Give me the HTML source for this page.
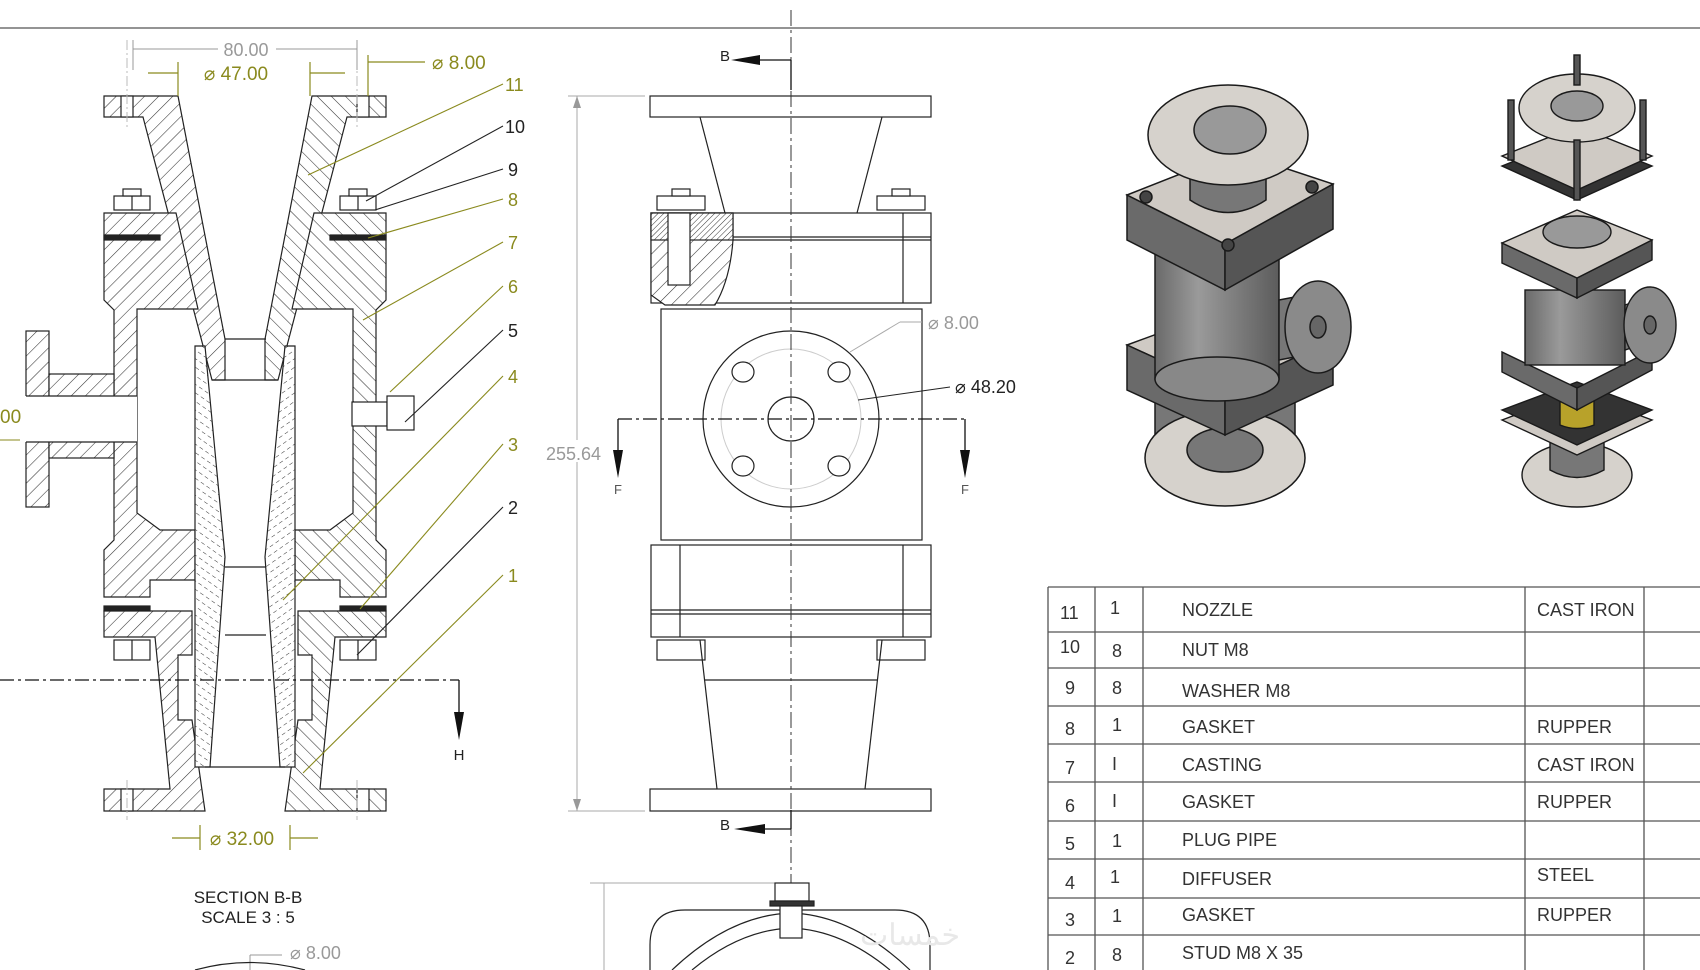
<!DOCTYPE html>
<html><head><meta charset="utf-8"><style>
html,body{margin:0;padding:0;background:#fff;}
svg{display:block;}
text{font-family:"Liberation Sans",sans-serif;}
</style></head><body>
<svg width="1700" height="970" viewBox="0 0 1700 970" xmlns="http://www.w3.org/2000/svg">
<defs>
<pattern id="h" patternUnits="userSpaceOnUse" width="10" height="10" patternTransform="rotate(45)">
<rect width="10" height="10" fill="#fff"/><line x1="0" y1="0" x2="0" y2="10" stroke="#333" stroke-width="1.1"/></pattern>
<pattern id="hd" patternUnits="userSpaceOnUse" width="7" height="7" patternTransform="rotate(-55)">
<rect width="7" height="7" fill="#fff"/><line x1="0" y1="0" x2="0" y2="4" stroke="#333" stroke-width="1"/></pattern>
<pattern id="hf" patternUnits="userSpaceOnUse" width="4" height="4" patternTransform="rotate(45)">
<rect width="4" height="4" fill="#fff"/><line x1="0" y1="0" x2="0" y2="4" stroke="#333" stroke-width="1"/></pattern>
<linearGradient id="cyl" x1="0" x2="1"><stop offset="0" stop-color="#6a6a6a"/><stop offset=".35" stop-color="#9a9a9a"/><stop offset="1" stop-color="#5c5c5c"/></linearGradient>
</defs>
<line x1="0" y1="28" x2="1700" y2="28" stroke="#555" stroke-width="1.2"/>

<!-- SECTION VIEW -->
<g stroke="#222" stroke-width="1.2">
<g id="half">
<polygon points="104,96 178,96 225,339 225,380 212,380 143,117 104,117" fill="url(#h)"/>
<rect x="121" y="96" width="12" height="21" fill="#fff"/>
<polygon points="104,213 176,213 198,309 137,309 137,513 160,530 195,530 195,580 150,580 150,597 104,597 104,550 114,540 114,310 104,300" fill="url(#h)"/>
<rect x="104" y="235" width="56" height="5" fill="#222"/>
<rect x="104" y="606" width="46" height="5" fill="#222"/>
<polygon points="104,611 192,611 192,655 178,655 178,720 192,720 205,811 104,811 104,789 170,789 155,637 104,637" fill="url(#h)"/>
<rect x="121" y="789" width="12" height="22" fill="#fff"/>
<polygon points="195,346 205,346 225,557 210,767 195,767" fill="url(#hd)"/>
<rect x="114" y="196" width="36" height="14" fill="#fff"/><rect x="123" y="189" width="18" height="7" fill="#fff"/>
<rect x="114" y="640" width="36" height="20" fill="#fff"/>
<line x1="132" y1="196" x2="132" y2="210"/><line x1="132" y1="640" x2="132" y2="660"/>
</g>
<use href="#half" transform="translate(490,0) scale(-1,1)"/>
<!-- side pipe -->
<rect x="26" y="331" width="23" height="176" fill="url(#h)"/>
<rect x="49" y="374" width="65" height="84" fill="url(#h)"/>
<rect x="20" y="396" width="117" height="46" fill="#fff" stroke="none"/>
<line x1="26" y1="396" x2="137" y2="396"/><line x1="26" y1="442" x2="137" y2="442"/>
<!-- throat lines -->
<line x1="225" y1="339" x2="266" y2="339"/><line x1="212" y1="380" x2="278" y2="380"/>
<line x1="225" y1="567" x2="266" y2="567"/><line x1="225" y1="635" x2="266" y2="635"/>
<line x1="205" y1="767" x2="285" y2="767"/>
<!-- plug -->
<rect x="352" y="402" width="35" height="24" fill="#fff"/>
<rect x="387" y="396" width="27" height="34" fill="#fff"/>
</g>
<g stroke="#bbb" stroke-width="1" stroke-dasharray="10,3,2,3">
<line x1="127" y1="40" x2="127" y2="130"/><line x1="357" y1="40" x2="357" y2="130"/>
<line x1="127" y1="780" x2="127" y2="820"/><line x1="357" y1="780" x2="357" y2="820"/>
</g>
<!-- section line H -->
<line x1="0" y1="680" x2="459" y2="680" stroke="#111" stroke-width="1.3" stroke-dasharray="14,4,3,4"/>
<line x1="459" y1="680" x2="459" y2="720" stroke="#111" stroke-width="1.3"/>
<polygon points="454,712 464,712 459,740" fill="#111"/>
<text x="459" y="760" font-size="15" text-anchor="middle" fill="#222">H</text>
<!-- dims -->
<g stroke="#999" stroke-width="1" fill="none">
<line x1="133" y1="40" x2="133" y2="70"/><line x1="357" y1="40" x2="357" y2="70"/>
<line x1="133" y1="49" x2="218" y2="49"/><line x1="276" y1="49" x2="357" y2="49"/>
</g>
<text x="246" y="56" font-size="18" text-anchor="middle" fill="#999">80.00</text>
<g stroke="#8a8a1e" stroke-width="1.2">
<line x1="148" y1="73" x2="178" y2="73"/><line x1="178" y1="62" x2="178" y2="96"/>
<line x1="310" y1="73" x2="345" y2="73"/><line x1="310" y1="62" x2="310" y2="96"/>
<line x1="368" y1="62" x2="425" y2="62"/><line x1="368" y1="55" x2="368" y2="96"/>
<line x1="172" y1="838" x2="200" y2="838"/><line x1="200" y1="825" x2="200" y2="850"/>
<line x1="290" y1="838" x2="318" y2="838"/><line x1="290" y1="825" x2="290" y2="850"/>
</g>
<g fill="#8a8a1e" font-size="19">
<text x="236" y="80" text-anchor="middle">⌀ 47.00</text>
<text x="432" y="69">⌀ 8.00</text>
<text x="242" y="845" text-anchor="middle">⌀ 32.00</text>
</g>
<text x="0" y="423" font-size="19" fill="#8a8a1e">00</text>
<line x1="0" y1="440" x2="20" y2="440" stroke="#8a8a1e"/>
<!-- balloons -->
<g font-size="18">
<g stroke="#8a8a1e" stroke-width="1.1">
<line x1="308" y1="175" x2="503" y2="84"/><line x1="368" y1="238" x2="503" y2="199"/>
<line x1="363" y1="320" x2="503" y2="242"/><line x1="390" y1="392" x2="503" y2="286"/>
<line x1="283" y1="600" x2="503" y2="376"/><line x1="360" y1="609" x2="503" y2="444"/>
<line x1="303" y1="773" x2="503" y2="575"/>
</g>
<g stroke="#222" stroke-width="1.1">
<line x1="366" y1="201" x2="503" y2="126"/><line x1="375" y1="210" x2="503" y2="169"/>
<line x1="405" y1="422" x2="503" y2="330"/><line x1="357" y1="655" x2="503" y2="507"/>
</g>
<g fill="#8a8a1e">
<text x="505" y="91">11</text><text x="508" y="206">8</text><text x="508" y="249">7</text>
<text x="508" y="293">6</text><text x="508" y="383">4</text><text x="508" y="451">3</text><text x="508" y="582">1</text>
</g>
<g fill="#222">
<text x="505" y="133">10</text><text x="508" y="176">9</text><text x="508" y="337">5</text><text x="508" y="514">2</text>
</g>
</g>
<text x="248" y="903" font-size="17" text-anchor="middle" fill="#222">SECTION B-B</text>
<text x="248" y="923" font-size="17" text-anchor="middle" fill="#222">SCALE 3 : 5</text>
<text x="290" y="959" font-size="18" fill="#999">⌀ 8.00</text>
<line x1="250" y1="955" x2="282" y2="955" stroke="#999"/><line x1="250" y1="955" x2="250" y2="970" stroke="#999"/>
<path d="M195,970 Q250,955 305,970" fill="none" stroke="#222" stroke-width="1.2"/>

<!-- MIDDLE VIEW -->
<g stroke="#222" stroke-width="1.2" fill="#fff">
<rect x="650" y="96" width="281" height="21"/>
<line x1="700" y1="117" x2="725" y2="213"/><line x1="882" y1="117" x2="857" y2="213"/>
<rect x="657" y="196" width="48" height="14"/><rect x="672" y="189" width="18" height="7"/>
<rect x="877" y="196" width="48" height="14"/><rect x="892" y="189" width="18" height="7"/>
<rect x="651" y="213" width="280" height="90"/>
<line x1="651" y1="237" x2="931" y2="237"/><line x1="651" y1="240" x2="931" y2="240"/>
<line x1="903" y1="213" x2="903" y2="303"/>
<path d="M651,213 L733,213 L733,240 Q730,280 715,305 L665,305 L651,295 Z" fill="url(#h)"/>
<rect x="651" y="213" width="82" height="27" fill="url(#hf)"/>
<rect x="668" y="213" width="22" height="72" fill="#fff"/>
<rect x="661" y="309" width="261" height="231"/>
<circle cx="791" cy="419" r="88"/>
<circle cx="791" cy="419" r="70" stroke="#ccc" stroke-width="1"/>
<ellipse cx="743" cy="372" rx="11" ry="10"/><ellipse cx="839" cy="372" rx="11" ry="10"/>
<ellipse cx="743" cy="466" rx="11" ry="10"/><ellipse cx="839" cy="466" rx="11" ry="10"/>
<ellipse cx="791" cy="419" rx="23" ry="22"/>
<rect x="651" y="545" width="280" height="92"/>
<line x1="651" y1="610" x2="931" y2="610"/><line x1="651" y1="614" x2="931" y2="614"/>
<line x1="680" y1="545" x2="680" y2="637"/><line x1="903" y1="545" x2="903" y2="637"/>
<rect x="657" y="640" width="48" height="20"/><rect x="877" y="640" width="48" height="20"/>
<line x1="700" y1="640" x2="717" y2="789"/><line x1="882" y1="640" x2="865" y2="789"/>
<line x1="705" y1="680" x2="877" y2="680"/>
<rect x="650" y="789" width="281" height="22"/>
</g>
<line x1="791" y1="10" x2="791" y2="970" stroke="#333" stroke-width="1" stroke-dasharray="16,4,3,4"/>
<!-- B arrows -->
<g stroke="#111" stroke-width="1.3">
<line x1="760" y1="60" x2="791" y2="60"/><line x1="791" y1="60" x2="791" y2="90"/>
<line x1="760" y1="829" x2="791" y2="829"/><line x1="791" y1="810" x2="791" y2="829"/>
</g>
<polygon points="731,60 760,55 760,65" fill="#111"/><polygon points="734,829 765,824 765,834" fill="#111"/>
<text x="720" y="61" font-size="15" fill="#222">B</text><text x="720" y="830" font-size="15" fill="#222">B</text>
<!-- F line -->
<line x1="618" y1="419" x2="965" y2="419" stroke="#111" stroke-width="1.3" stroke-dasharray="14,4,3,4"/>
<g stroke="#111" stroke-width="1.3"><line x1="618" y1="419" x2="618" y2="460"/><line x1="965" y1="419" x2="965" y2="460"/></g>
<polygon points="613,450 623,450 618,478" fill="#111"/><polygon points="960,450 970,450 965,478" fill="#111"/>
<text x="618" y="494" font-size="13" text-anchor="middle" fill="#555">F</text><text x="965" y="494" font-size="13" text-anchor="middle" fill="#555">F</text>
<!-- dims -->
<g stroke="#aaa" stroke-width="1">
<line x1="568" y1="96" x2="645" y2="96"/><line x1="568" y1="811" x2="645" y2="811"/>
<line x1="577" y1="96" x2="577" y2="440"/><line x1="577" y1="462" x2="577" y2="811"/>
<line x1="850" y1="352" x2="900" y2="322"/><line x1="900" y1="322" x2="922" y2="322"/>
<line x1="590" y1="883" x2="780" y2="883"/><line x1="604" y1="883" x2="604" y2="970"/>
</g>
<polygon points="577,96 573,108 581,108" fill="#999"/><polygon points="577,811 573,799 581,799" fill="#999"/>
<text x="546" y="460" font-size="18" fill="#999">255.64</text>
<text x="928" y="329" font-size="18" fill="#999">⌀ 8.00</text>
<line x1="858" y1="400" x2="950" y2="387" stroke="#222"/>
<text x="955" y="393" font-size="18" fill="#222">⌀ 48.20</text>
<!-- bottom view -->
<g stroke="#222" stroke-width="1.2" fill="#fff">
<path d="M650,970 L650,945 Q650,910 685,910 L895,910 Q930,910 930,945 L930,970"/>
<path d="M672,970 Q730,915 791,913 Q852,915 910,970" fill="none"/>
<path d="M692,970 Q740,930 791,928 Q842,930 890,970" fill="none"/>
<rect x="775" y="883" width="34" height="18"/><rect x="770" y="901" width="44" height="5" fill="#333"/>
<rect x="780" y="906" width="22" height="32"/>
</g>
<text x="860" y="945" font-size="30" fill="#e8e8e8" font-family="'Liberation Sans','Noto Sans CJK SC',sans-serif">خمسات</text>

<!-- 3D LEFT -->
<g stroke="#1a1a1a" stroke-width="1.5">
<path d="M1155,400 L1155,480 L1295,480 L1295,400 Z" fill="#777"/>
<ellipse cx="1225" cy="458" rx="80" ry="48" fill="#d6d2cc"/>
<ellipse cx="1225" cy="450" rx="38" ry="22" fill="#777"/>
<polygon points="1127,345 1236,305 1333,340 1225,390" fill="#cfcac4"/>
<polygon points="1127,345 1225,390 1225,435 1127,390" fill="#6a6a6a"/>
<polygon points="1225,390 1333,340 1333,385 1225,435" fill="#555"/>
<rect x="1155" y="244" width="124" height="135" fill="url(#cyl)"/>
<ellipse cx="1217" cy="379" rx="62" ry="22" fill="#888"/>
<polygon points="1127,195 1127,240 1225,290 1225,244" fill="#6a6a6a"/>
<polygon points="1225,244 1333,184 1333,229 1225,290" fill="#555"/>
<polygon points="1127,195 1236,152 1333,184 1225,244" fill="#cfcac4"/>
<path d="M1190,150 L1190,200 Q1228,225 1266,200 L1266,150 Z" fill="#777"/>
<ellipse cx="1228" cy="135" rx="80" ry="50" fill="#d6d2cc"/>
<ellipse cx="1230" cy="130" rx="36" ry="24" fill="#999"/>
<path d="M1279,300 L1305,295 L1305,355 L1279,360 Z" fill="#777"/>
<ellipse cx="1318" cy="327" rx="33" ry="46" fill="#8a8a8a"/>
<ellipse cx="1318" cy="327" rx="8" ry="11" fill="#666"/>
<circle cx="1146" cy="197" r="6" fill="#444"/><circle cx="1312" cy="187" r="6" fill="#444"/><circle cx="1228" cy="245" r="6" fill="#444"/>
</g>
<!-- 3D RIGHT -->
<g stroke="#1a1a1a" stroke-width="1.4">
<ellipse cx="1577" cy="475" rx="55" ry="32" fill="#d6d2cc"/>
<path d="M1550,430 L1550,470 Q1577,485 1604,470 L1604,430 Z" fill="#777"/>
<polygon points="1502,420 1577,392 1652,420 1577,455" fill="#cfcac4"/>
<polygon points="1502,410 1577,382 1652,410 1577,445" fill="#333"/>
<path d="M1560,393 L1560,425 Q1577,432 1594,425 L1594,393 Z" fill="#b8a22a"/>
<polygon points="1502,352 1502,372 1577,410 1577,388" fill="#6a6a6a"/>
<polygon points="1577,388 1652,350 1652,370 1577,410" fill="#555"/>
<rect x="1525" y="290" width="100" height="75" fill="url(#cyl)"/>
<path d="M1625,305 L1640,300 L1640,345 L1625,350 Z" fill="#777"/>
<ellipse cx="1650" cy="325" rx="26" ry="38" fill="#8a8a8a"/>
<ellipse cx="1650" cy="325" rx="6" ry="9" fill="#666"/>
<polygon points="1502,243 1502,263 1577,298 1577,278" fill="#6a6a6a"/>
<polygon points="1577,278 1652,240 1652,260 1577,298" fill="#555"/>
<polygon points="1502,243 1577,210 1652,240 1577,278" fill="#cfcac4"/>
<ellipse cx="1577" cy="232" rx="34" ry="16" fill="#999"/>
<polygon points="1502,166 1577,136 1652,166 1577,200" fill="#333"/>
<polygon points="1502,156 1577,126 1652,156 1577,190" fill="#cfcac4"/>
<ellipse cx="1577" cy="108" rx="58" ry="34" fill="#d6d2cc"/>
<ellipse cx="1577" cy="106" rx="26" ry="15" fill="#999"/>
<g fill="#555"><rect x="1508" y="100" width="6" height="60"/><rect x="1640" y="100" width="6" height="60"/><rect x="1574" y="140" width="6" height="60"/><rect x="1574" y="55" width="6" height="30"/></g>
</g>

<!-- TABLE -->
<g stroke="#555" stroke-width="1.3">
<line x1="1048" y1="587" x2="1700" y2="587"/>
<line x1="1048" y1="632" x2="1700" y2="632"/><line x1="1048" y1="668" x2="1700" y2="668"/>
<line x1="1048" y1="706" x2="1700" y2="706"/><line x1="1048" y1="744" x2="1700" y2="744"/>
<line x1="1048" y1="782" x2="1700" y2="782"/><line x1="1048" y1="821" x2="1700" y2="821"/>
<line x1="1048" y1="859" x2="1700" y2="859"/><line x1="1048" y1="898" x2="1700" y2="898"/>
<line x1="1048" y1="935" x2="1700" y2="935"/>
<line x1="1048" y1="587" x2="1048" y2="970"/><line x1="1095" y1="587" x2="1095" y2="970"/>
<line x1="1143" y1="587" x2="1143" y2="970"/><line x1="1525" y1="587" x2="1525" y2="970"/>
<line x1="1644" y1="587" x2="1644" y2="970"/>
</g>
<g font-size="18" fill="#333">
<text x="1060" y="619">11</text><text x="1110" y="614">1</text><text x="1182" y="616">NOZZLE</text><text x="1537" y="616">CAST IRON</text>
<text x="1060" y="653">10</text><text x="1112" y="657">8</text><text x="1182" y="656">NUT M8</text>
<text x="1065" y="694">9</text><text x="1112" y="694">8</text><text x="1182" y="697">WASHER M8</text>
<text x="1065" y="735">8</text><text x="1112" y="731">1</text><text x="1182" y="733">GASKET</text><text x="1537" y="733">RUPPER</text>
<text x="1065" y="774">7</text><text x="1112" y="770">I</text><text x="1182" y="771">CASTING</text><text x="1537" y="771">CAST IRON</text>
<text x="1065" y="812">6</text><text x="1112" y="807">I</text><text x="1182" y="808">GASKET</text><text x="1537" y="808">RUPPER</text>
<text x="1065" y="850">5</text><text x="1112" y="847">1</text><text x="1182" y="846">PLUG PIPE</text>
<text x="1065" y="889">4</text><text x="1110" y="883">1</text><text x="1182" y="885">DIFFUSER</text><text x="1537" y="881">STEEL</text>
<text x="1065" y="926">3</text><text x="1112" y="922">1</text><text x="1182" y="921">GASKET</text><text x="1537" y="921">RUPPER</text>
<text x="1065" y="964">2</text><text x="1112" y="961">8</text><text x="1182" y="959">STUD M8 X 35</text>
</g>
</svg>
</body></html>
